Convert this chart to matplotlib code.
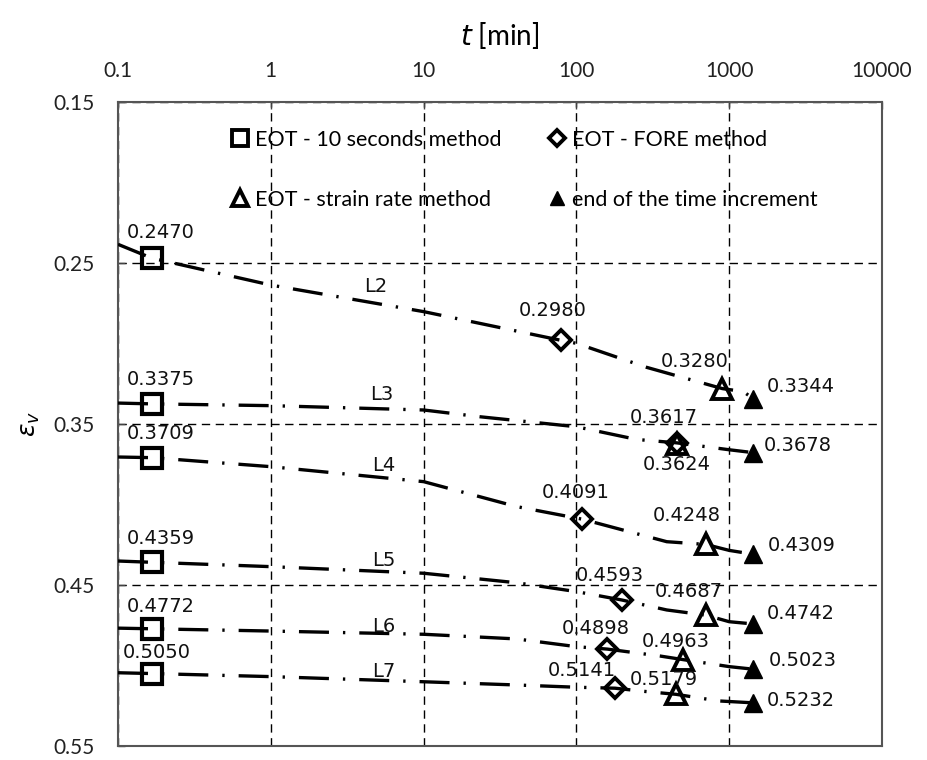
import matplotlib
matplotlib.use("Agg")
import matplotlib.pyplot as plt
from matplotlib.lines import Line2D
from matplotlib.ticker import NullLocator, FixedLocator, FixedFormatter

plt.rcParams['font.family'] = ['Lato', 'DejaVu Sans']

# ---- data -------------------------------------------------------------
line_names = ["L2", "L3", "L4", "L5", "L6", "L7"]

# creep curves (time in min, volumetric strain)
L2_t = [0.1, 0.1667, 1, 10, 79, 100, 288, 901, 1240, 1440]
L2_e = [0.2384, 0.2470, 0.2637, 0.2802, 0.2980, 0.2999, 0.3148, 0.3280, 0.3299, 0.3344]
L3_t = [0.1, 0.1667, 1, 10, 23.4, 100, 248, 453, 1000, 1440]
L3_e = [0.3370, 0.3375, 0.3386, 0.3413, 0.3455, 0.3517, 0.3596, 0.3617, 0.3660, 0.3678]
L4_t = [0.1, 0.1667, 1, 10, 40.6, 109, 390, 702, 1000, 1440]
L4_e = [0.3705, 0.3709, 0.3765, 0.3858, 0.4013, 0.4091, 0.4231, 0.4248, 0.4285, 0.4309]
L5_t = [0.1, 0.1667, 1, 10, 40.6, 100, 198, 390, 702, 1000, 1440]
L5_e = [0.4351, 0.4359, 0.4386, 0.4427, 0.4486, 0.4541, 0.4593, 0.4655, 0.4687, 0.4728, 0.4742]
L6_t = [0.1, 0.1667, 1, 10, 40.6, 100, 159, 352, 496, 1000, 1440]
L6_e = [0.4768, 0.4772, 0.4786, 0.4806, 0.4835, 0.4883, 0.4898, 0.4941, 0.4963, 0.5007, 0.5023]
L7_t = [0.1, 0.1667, 1, 10, 40.6, 100, 179, 273, 449, 850, 1440]
L7_e = [0.5045, 0.5050, 0.5069, 0.5101, 0.5121, 0.5135, 0.5141, 0.5160, 0.5179, 0.5220, 0.5232]

# characteristic points
t_10s = [0.1667, 0.1667, 0.1667, 0.1667, 0.1667, 0.1667]
e_10s = [0.2470, 0.3375, 0.3709, 0.4359, 0.4772, 0.5050]
t_fore = [79, 453, 109, 198, 159, 179]
e_fore = [0.2980, 0.3617, 0.4091, 0.4593, 0.4898, 0.5141]
t_sr = [901, 453, 702, 702, 496, 449]
e_sr = [0.3280, 0.3624, 0.4248, 0.4687, 0.4963, 0.5179]
t_end = [1440, 1440, 1440, 1440, 1440, 1440]
e_end = [0.3344, 0.3678, 0.4309, 0.4742, 0.5023, 0.5232]

# curve name label anchor points
name_t = [4.1, 4.5, 4.6, 4.6, 4.6, 4.6]
name_e = [0.2647, 0.3314, 0.3755, 0.4345, 0.4755, 0.5038]

x_ticks = [0.1, 1, 10, 100, 1000, 10000]
x_tick_labels = ["0.1", "1", "10", "100", "1000", "10000"]
y_ticks = [0.15, 0.25, 0.35, 0.45, 0.55]
y_tick_labels = ["0.15", "0.25", "0.35", "0.45", "0.55"]

legend_labels = ["EOT - 10 seconds method", "EOT - strain rate method",
                 "EOT - FORE method", "end of the time increment"]

# ---- label offsets (pixels) ---------------------------------------------
off_10s = [(9, -26), (9, -24), (9, -24), (9, -24), (9, -22), (5, -21)]
off_fore = [(-8, -30), (-13, -25), (-6, -27), (-12, -24), (-11, -21), (-33, -18)]
off_sr = [(-28, -27), (0, 21), (-19, -29), (-17, -24), (-7, -18), (-12, -15)]
off_end = [(13, -12), (10, -7), (14, -9), (13, -10), (15, -9), (13, -2)]

# ---- figure -----------------------------------------------------------
W, H = 927, 760
fig = plt.figure(figsize=(W / 100, H / 100), dpi=100)
ax = fig.add_axes([118 / W, 1 - 746 / H, (882 - 118) / W, (746 - 102) / H])

ax.set_xscale('log')
ax.set_xlim(0.1, 10000)
ax.set_ylim(0.55, 0.15)

ax.xaxis.tick_top()
ax.xaxis.set_label_position('top')
ax.xaxis.set_major_locator(FixedLocator(x_ticks))
ax.xaxis.set_major_formatter(FixedFormatter(x_tick_labels))
ax.xaxis.set_minor_locator(NullLocator())
ax.yaxis.set_major_locator(FixedLocator(y_ticks))
ax.yaxis.set_major_formatter(FixedFormatter(y_tick_labels))
ax.tick_params(axis='both', which='major', direction='in', length=5,
               width=1, labelsize=15, color='#444444', labelcolor='#222222')
ax.tick_params(axis='x', pad=15)
ax.tick_params(axis='y', pad=17)

for s in ax.spines.values():
    s.set_color('#555555')
    s.set_linewidth(1.5)

ax.grid(True, which='major', color='black', linestyle=(0, (6, 4)), linewidth=1)
ax.set_axisbelow(True)

ax.set_xlabel(r'$t$ [min]', fontsize=20, labelpad=12)
ax.set_ylabel(r'$\varepsilon_v$', fontsize=18, labelpad=8)

curves = [(L2_t, L2_e), (L3_t, L3_e), (L4_t, L4_e),
          (L5_t, L5_e), (L6_t, L6_e), (L7_t, L7_e)]
for ct, ce in curves:
    ax.plot(ct, ce, color='black', linewidth=2.4,
            linestyle=(0, (9, 4.2, 0.7, 4.2)), zorder=3)

mk = dict(color='black', linestyle='none', zorder=4, clip_on=False)
ax.plot(t_10s, e_10s, marker='s', markersize=14, markerfacecolor='none',
        markeredgewidth=3.0, **mk)
ax.plot(t_fore, e_fore, marker='D', markersize=10.5, markerfacecolor='none',
        markeredgewidth=2.8, **mk)
ax.plot(t_sr, e_sr, marker='^', markersize=15, markerfacecolor='none',
        markeredgewidth=2.8, **mk)
ax.plot(t_end, e_end, marker='^', markersize=13, markerfacecolor='black',
        markeredgewidth=1, **mk)

px = 72 / 100  # pixels -> points


def annotate(ts, es, offs, ha):
    for t, e, (dx, dy) in zip(ts, es, offs):
        ax.annotate(f"{e:.4f}", (t, e), xytext=(dx * px, -dy * px),
                    textcoords='offset points', ha=ha, va='center',
                    fontsize=14, family='DejaVu Sans', color='#111111', zorder=5)


annotate(t_10s, e_10s, off_10s, 'center')
annotate(t_fore, e_fore, off_fore, 'center')
annotate(t_sr, e_sr, off_sr, 'center')
annotate(t_end, e_end, off_end, 'left')

for name, t, e in zip(line_names, name_t, name_e):
    ax.text(t, e, name, fontsize=14, family='DejaVu Sans', ha='left',
            va='center', color='#111111', zorder=5)

handles = [
    Line2D([], [], color='black', ls='none', marker='s', markersize=11,
           markerfacecolor='none', markeredgewidth=2.8),
    Line2D([], [], color='black', ls='none', marker='^', markersize=11,
           markerfacecolor='none', markeredgewidth=2.8),
    Line2D([], [], color='black', ls='none', marker='D', markersize=8,
           markerfacecolor='none', markeredgewidth=2.8),
    Line2D([], [], color='black', ls='none', marker='^', markersize=10,
           markerfacecolor='black'),
]
leg = ax.legend(handles, legend_labels, ncol=2, loc='upper left',
                bbox_to_anchor=((229 - 118) / 764, 1 - (130 - 102) / 644),
                frameon=False, fontsize=15.5, handlelength=1.0,
                handletextpad=0.2, labelspacing=1.85, columnspacing=2.1,
                borderpad=0, borderaxespad=0)

fig.savefig('out.png', dpi=100)
